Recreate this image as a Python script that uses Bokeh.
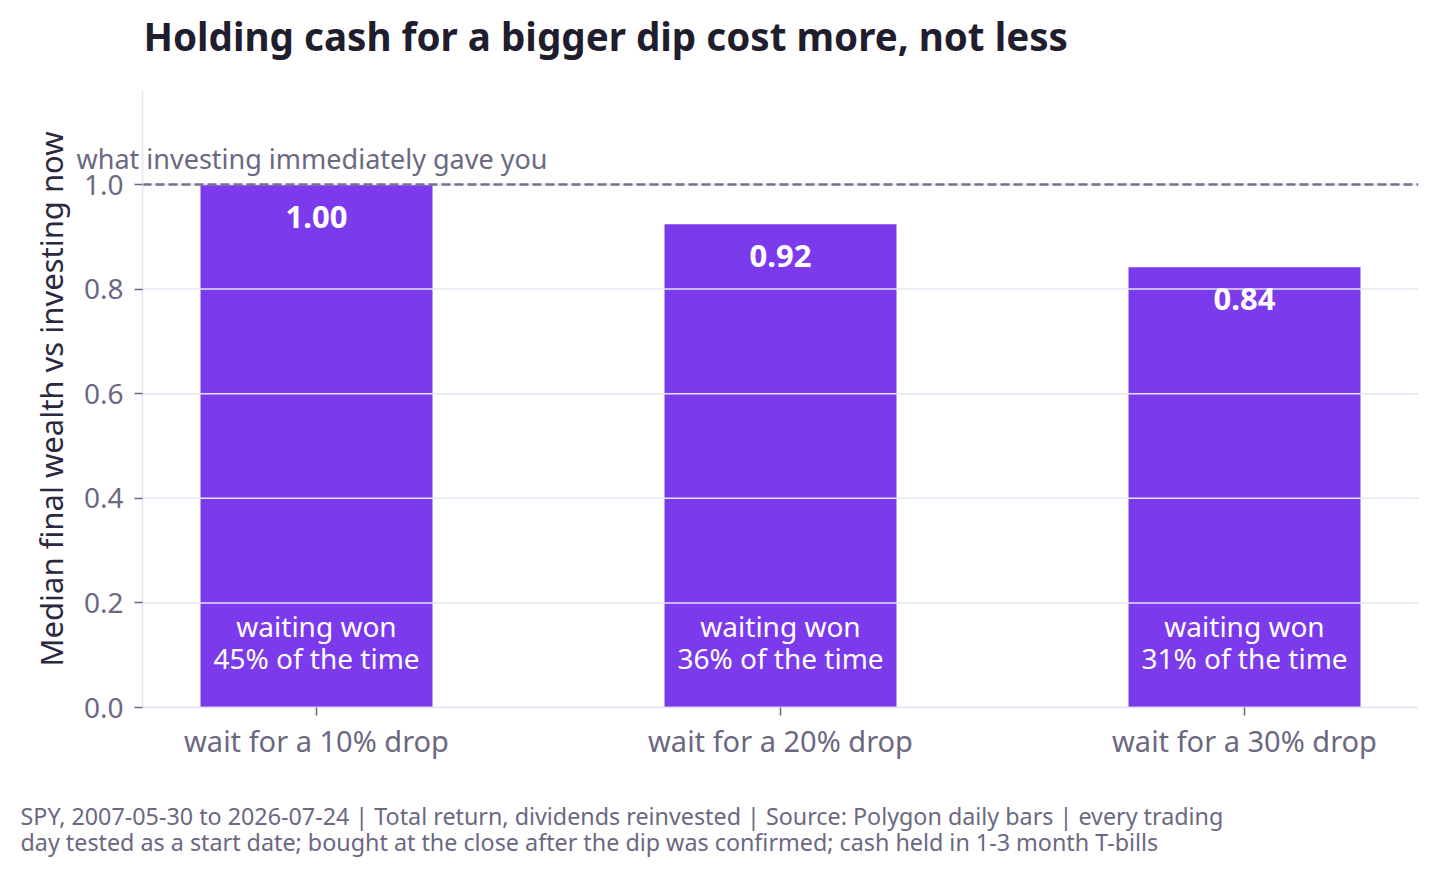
from bokeh.plotting import figure
from bokeh.models import ColumnDataSource, Label, FixedTicker, Range1d
from bokeh.core.properties import value
from bokeh.embed import file_html
from bokeh.resources import INLINE

# --- data -------------------------------------------------------------
thresholds = ["wait for a 10% drop", "wait for a 20% drop", "wait for a 30% drop"]
median_wealth = [1.00, 0.924, 0.842]
waiting_won_pct = [45, 36, 31]
y_ticks = [0.0, 0.2, 0.4, 0.6, 0.8, 1.0]
reference_level = 1.0

title_text = "Holding cash for a bigger dip cost more, not less"
notes = [
    "SPY, 2007-05-30 to 2026-07-24 | Total return, dividends reinvested | Source: Polygon daily bars | every trading",
    "day tested as a start date; bought at the close after the dip was confirmed; cash held in 1-3 month T-bills",
]

FONT = "Noto Sans"
BAR = "#7c3aed"
GRID = "#e6e3f2"
MUTED = "#6b6882"
DARK = "#1f1d2e"

# --- page geometry (pixels) -------------------------------------------
W, H = 1438, 880
AX_LEFT, AX_RIGHT = 142, 1418      # where the value axis sits / plot ends
Y0_PX, Y1_PX = 707, 184            # pixel rows of 0.0 and 1.0
X_LO, X_HI = -0.375, len(thresholds) - 0.625
PX_X = (AX_RIGHT - AX_LEFT) / (X_HI - X_LO)
PX_Y = Y0_PX - Y1_PX
Y_TOP_VAL = 1.18                   # top of the value axis


def xd(px):
    """canvas x pixel -> data x"""
    return X_LO + (px - AX_LEFT) / PX_X


def yd(py):
    """canvas y pixel (from top) -> data y"""
    return (Y0_PX - py) / PX_Y


xs = list(range(len(thresholds)))
src = ColumnDataSource(dict(
    x=xs,
    top=median_wealth,
    value_label=[f"{v:.2f}" for v in median_wealth],
    won_line1=["waiting won"] * len(xs),
    won_line2=[f"{p}% of the time" for p in waiting_won_pct],
    won_y=[yd(641)] * len(xs),
))

# the frame covers the whole canvas so that every text can be placed freely;
# the axes are pinned at their data locations
p = figure(width=W, height=H, output_backend="svg", toolbar_location=None,
           title=None,
           x_range=Range1d(xd(0), xd(W - 20)), y_range=Range1d(yd(H), yd(0)),
           min_border_left=0, min_border_right=20, min_border_top=0,
           min_border_bottom=0)
p.outline_line_color = None
p.background_fill_color = "white"
p.border_fill_color = "white"
p.xgrid.visible = False
p.ygrid.visible = False

# bars
p.vbar(x="x", top="top", width=0.5, source=src, fill_color=BAR, line_color=None)

# horizontal grid lines across the plot area, on top of the bars
p.segment(x0=[X_LO] * len(y_ticks), x1=[X_HI] * len(y_ticks),
          y0=y_ticks, y1=y_ticks, line_color=GRID, line_width=1.5)

# reference line: what investing immediately gave you
p.segment(x0=[X_LO], x1=[X_HI], y0=[reference_level], y1=[reference_level],
          line_color="#74718a", line_width=2.5, line_dash="9 4")
p.add_layout(Label(x=xd(76), y=reference_level, y_offset=26,
                   text="what investing immediately gave you",
                   text_font=FONT, text_font_size="27px", text_color=MUTED,
                   text_baseline="middle", text_align="left"))

# value labels inside the bars
p.text(x="x", y="top", text="value_label", source=src, y_offset=32,
       text_font=value(FONT), text_font_size="31px", text_font_style="bold",
       text_color="white", text_align="center", text_baseline="middle")
p.text(x="x", y="won_y", text="won_line1", source=src, y_offset=-16,
       text_font=value(FONT), text_font_size="28px", text_color="white",
       text_align="center", text_baseline="middle")
p.text(x="x", y="won_y", text="won_line2", source=src, y_offset=16,
       text_font=value(FONT), text_font_size="28px", text_color="white",
       text_align="center", text_baseline="middle")

# axes
p.yaxis.fixed_location = X_LO
p.yaxis.bounds = (0, Y_TOP_VAL)
p.yaxis.ticker = FixedTicker(ticks=y_ticks)
p.yaxis.major_label_overrides = {t: f"{t:.1f}" for t in y_ticks}
p.yaxis.axis_label = "Median final wealth vs investing now"
p.yaxis.axis_label_text_font = FONT
p.yaxis.axis_label_text_font_size = "31px"
p.yaxis.axis_label_text_font_style = "normal"
p.yaxis.axis_label_text_color = "#2b2840"
p.yaxis.axis_label_standoff = 9

p.xaxis.fixed_location = 0
p.xaxis.bounds = (X_LO, X_HI)
p.xaxis.ticker = FixedTicker(ticks=xs)
p.xaxis.major_label_overrides = {i: t for i, t in zip(xs, thresholds)}

for ax in (p.xaxis, p.yaxis):
    ax.axis_line_color = GRID
    ax.axis_line_width = 1.5
    ax.major_tick_line_color = MUTED
    ax.major_tick_line_width = 1.5
    ax.major_tick_out = 8
    ax.major_tick_in = 0
    ax.minor_tick_line_color = None
    ax.major_label_text_font = FONT
    ax.major_label_text_color = MUTED
p.xaxis.major_label_text_font_size = "29px"
p.yaxis.major_label_text_font_size = "28px"
p.xaxis.major_label_standoff = 5
p.yaxis.major_label_standoff = 11

# title and footer notes
p.add_layout(Label(x=xd(143), y=yd(35), text=title_text, text_font=FONT,
                   text_font_size="38.6px", text_font_style="bold",
                   text_color=DARK, text_baseline="middle", text_align="left"))
for i, line in enumerate(notes):
    p.add_layout(Label(x=xd(20), y=yd(815 + 26 * i), text=line, text_font=FONT,
                       text_font_size="23.3px", text_color=MUTED,
                       text_baseline="middle", text_align="left"))

open("out.html", "w").write(file_html(p, INLINE))
